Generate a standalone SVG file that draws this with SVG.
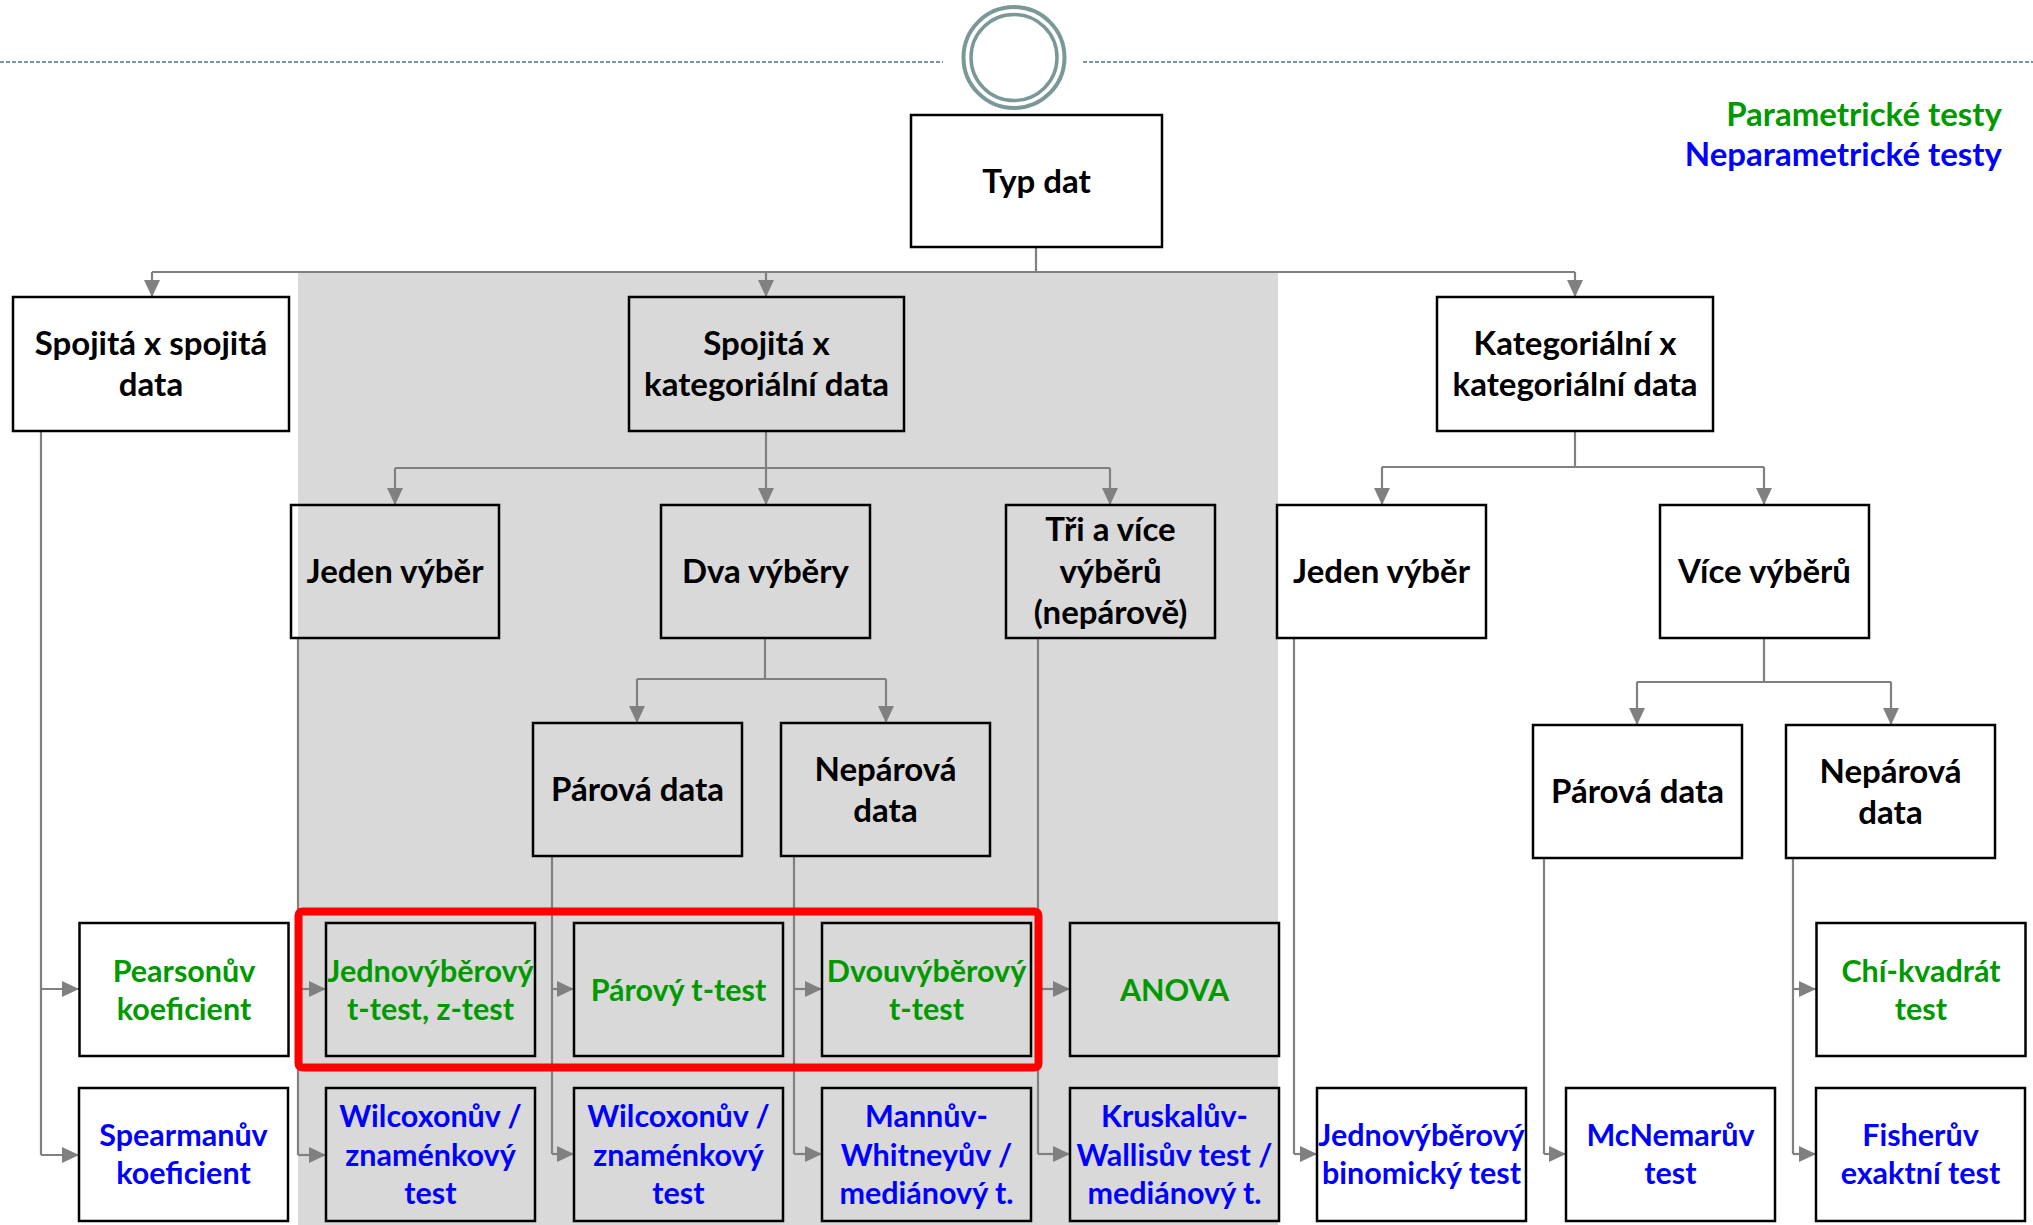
<svg xmlns="http://www.w3.org/2000/svg" width="2033" height="1225" viewBox="0 0 2033 1225">
<style>
.bx{fill:none;stroke:#000;stroke-width:2.5}
.t{font-family:Lato,"Liberation Sans",sans-serif;font-weight:bold;text-anchor:middle}
.b{font-size:33px;fill:#000}
.g{font-size:30.5px;fill:#009900}
.u{font-size:30.5px;fill:#0000ff}
.c{fill:none;stroke:#808080;stroke-width:2.2}
.ca{fill:none;stroke:#808080;stroke-width:2.2;marker-end:url(#ah)}
.teal{fill:none;stroke:#7a9898}
</style>
<defs>
<marker id="ah" markerUnits="userSpaceOnUse" markerWidth="17" markerHeight="16" refX="17" refY="8" orient="auto">
<path d="M0,0 L17,8 L0,16 z" fill="#808080"/>
</marker>
</defs>
<rect width="2033" height="1225" fill="#fff"/>
<rect id="bg" x="298" y="272" width="980" height="953" fill="#d9d9d9"/>
<g id="header">
<line x1="0" y1="62" x2="943" y2="62" class="teal" stroke-width="2" stroke-dasharray="4,2"/>
<line x1="1083" y1="62" x2="2033" y2="62" class="teal" stroke-width="2" stroke-dasharray="4,2"/>
<circle cx="1014" cy="57.5" r="50.5" fill="#fff" stroke="#7a9898" stroke-width="4"/>
<circle cx="1014" cy="57.5" r="43" class="teal" stroke-width="3.5"/>
</g>
<g id="legend">
<text x="2002" y="126" class="t b" style="fill:#009900;text-anchor:end">Parametrické testy</text>
<text x="2002" y="166" class="t b" style="fill:#0000ff;text-anchor:end">Neparametrické testy</text>
</g>
<g id="connectors">
<path class="c" d="M1036,247 V272 M152,272 H1575"/>
<path class="ca" d="M152,272 V297"/>
<path class="ca" d="M766,272 V297"/>
<path class="ca" d="M1575,272 V297"/>
<path class="c" d="M766,431 V468 M395,468 H1110"/>
<path class="ca" d="M395,468 V505"/>
<path class="ca" d="M766,468 V505"/>
<path class="ca" d="M1110,468 V505"/>
<path class="c" d="M1575,431 V467 M1382,467 H1764"/>
<path class="ca" d="M1382,467 V505"/>
<path class="ca" d="M1764,467 V505"/>
<path class="c" d="M765,638 V679 M637,679 H886"/>
<path class="ca" d="M637,679 V723"/>
<path class="ca" d="M886,679 V723"/>
<path class="c" d="M1764,638 V682 M1637,682 H1891"/>
<path class="ca" d="M1637,682 V725"/>
<path class="ca" d="M1891,682 V725"/>
<path class="c" d="M41,431 V1155"/>
<path class="ca" d="M41,989 H79"/>
<path class="ca" d="M41,1155 H79"/>
<path class="c" d="M298,638 V1155"/>
<path class="ca" d="M298,989 H326"/>
<path class="ca" d="M298,1155 H326"/>
<path class="c" d="M552,856 V1154"/>
<path class="ca" d="M552,989 H574"/>
<path class="ca" d="M552,1154 H574"/>
<path class="c" d="M794,856 V1154"/>
<path class="ca" d="M794,989 H822"/>
<path class="ca" d="M794,1154 H822"/>
<path class="c" d="M1038,638 V1154"/>
<path class="ca" d="M1038,989 H1070"/>
<path class="ca" d="M1038,1154 H1070"/>
<path class="c" d="M1294,638 V1154"/>
<path class="ca" d="M1294,1154 H1317"/>
<path class="c" d="M1544,858 V1154"/>
<path class="ca" d="M1544,1154 H1566"/>
<path class="c" d="M1793,858 V1154"/>
<path class="ca" d="M1793,989 H1816"/>
<path class="ca" d="M1793,1154 H1816"/>
</g>
<g id="n_typ"><rect class="bx" x="911" y="115" width="251" height="132"/><text class="t b" x="1036.5" y="192.5">Typ dat</text></g>
<g id="n_ss"><rect class="bx" x="13" y="297" width="276" height="134"/><text class="t b" x="151" y="354.5">Spojitá x spojitá</text><text class="t b" x="151" y="396">data</text></g>
<g id="n_sk"><rect class="bx" x="629" y="297" width="275" height="134"/><text class="t b" x="766.5" y="354.5">Spojitá x</text><text class="t b" x="766.5" y="396">kategoriální data</text></g>
<g id="n_kk"><rect class="bx" x="1437" y="297" width="276" height="134"/><text class="t b" x="1575" y="354.5">Kategoriální x</text><text class="t b" x="1575" y="396">kategoriální data</text></g>
<g id="n_jv1"><rect class="bx" x="291" y="505" width="208" height="133"/><text class="t b" x="395" y="583">Jeden výběr</text></g>
<g id="n_dv"><rect class="bx" x="661" y="505" width="209" height="133"/><text class="t b" x="765.5" y="583">Dva výběry</text></g>
<g id="n_tri"><rect class="bx" x="1006" y="505" width="209" height="133"/><text class="t b" x="1110.5" y="541">Tři a více</text><text class="t b" x="1110.5" y="582.5">výběrů</text><text class="t b" x="1110.5" y="624">(nepárově)</text></g>
<g id="n_jv2"><rect class="bx" x="1277" y="505" width="209" height="133"/><text class="t b" x="1381.5" y="583">Jeden výběr</text></g>
<g id="n_vv"><rect class="bx" x="1660" y="505" width="209" height="133"/><text class="t b" x="1764.5" y="583">Více výběrů</text></g>
<g id="n_pd1"><rect class="bx" x="533" y="723" width="209" height="133"/><text class="t b" x="637.5" y="801">Párová data</text></g>
<g id="n_nd1"><rect class="bx" x="781" y="723" width="209" height="133"/><text class="t b" x="885.5" y="780.5">Nepárová</text><text class="t b" x="885.5" y="822">data</text></g>
<g id="n_pd2"><rect class="bx" x="1533" y="725" width="209" height="133"/><text class="t b" x="1637.5" y="803">Párová data</text></g>
<g id="n_nd2"><rect class="bx" x="1786" y="725" width="209" height="133"/><text class="t b" x="1890.5" y="782.5">Nepárová</text><text class="t b" x="1890.5" y="824">data</text></g>
<g id="n_pearson"><rect class="bx" x="79.5" y="923" width="209" height="133"/><text class="t g" x="184" y="981.5">Pearsonův</text><text class="t g" x="184" y="1019.5">koeficient</text></g>
<g id="n_jednot"><rect class="bx" x="326" y="923" width="209" height="133"/><text class="t g" x="430.5" y="981.5">Jednovýběrový</text><text class="t g" x="430.5" y="1019.5">t-test, z-test</text></g>
<g id="n_parovy"><rect class="bx" x="574" y="923" width="209" height="133"/><text class="t g" x="678.5" y="1000.5">Párový t-test</text></g>
<g id="n_dvou"><rect class="bx" x="822" y="923" width="209" height="133"/><text class="t g" x="926.5" y="981.5">Dvouvýběrový</text><text class="t g" x="926.5" y="1019.5">t-test</text></g>
<g id="n_anova"><rect class="bx" x="1070" y="923" width="209" height="133"/><text class="t g" x="1174.5" y="1000.5">ANOVA</text></g>
<g id="n_chi"><rect class="bx" x="1816.5" y="923" width="209" height="133"/><text class="t g" x="1921" y="981.5">Chí-kvadrát</text><text class="t g" x="1921" y="1019.5">test</text></g>
<g id="n_spearman"><rect class="bx" x="79" y="1088" width="209" height="133"/><text class="t u" x="183.5" y="1145.5">Spearmanův</text><text class="t u" x="183.5" y="1184">koeficient</text></g>
<g id="n_wil1"><rect class="bx" x="326" y="1088" width="209" height="133"/><text class="t u" x="430.5" y="1127">Wilcoxonův /</text><text class="t u" x="430.5" y="1165.5">znaménkový</text><text class="t u" x="430.5" y="1204">test</text></g>
<g id="n_wil2"><rect class="bx" x="574" y="1088" width="209" height="133"/><text class="t u" x="678.5" y="1127">Wilcoxonův /</text><text class="t u" x="678.5" y="1165.5">znaménkový</text><text class="t u" x="678.5" y="1204">test</text></g>
<g id="n_mann"><rect class="bx" x="822" y="1088" width="209" height="133"/><text class="t u" x="926.5" y="1127">Mannův-</text><text class="t u" x="926.5" y="1165.5">Whitneyův /</text><text class="t u" x="926.5" y="1204">mediánový t.</text></g>
<g id="n_krusk"><rect class="bx" x="1070" y="1088" width="209" height="133"/><text class="t u" x="1174.5" y="1127">Kruskalův-</text><text class="t u" x="1174.5" y="1165.5">Wallisův test /</text><text class="t u" x="1174.5" y="1204">mediánový t.</text></g>
<g id="n_binom"><rect class="bx" x="1317" y="1088" width="209" height="133"/><text class="t u" x="1421.5" y="1145.5">Jednovýběrový</text><text class="t u" x="1421.5" y="1184">binomický test</text></g>
<g id="n_mcnemar"><rect class="bx" x="1566" y="1088" width="209" height="133"/><text class="t u" x="1670.5" y="1145.5">McNemarův</text><text class="t u" x="1670.5" y="1184">test</text></g>
<g id="n_fisher"><rect class="bx" x="1816" y="1088" width="209" height="133"/><text class="t u" x="1920.5" y="1145.5">Fisherův</text><text class="t u" x="1920.5" y="1184">exaktní test</text></g>
<rect id="highlight" x="298.5" y="911.5" width="740" height="156" rx="4" fill="none" stroke="#ff0000" stroke-width="8"/>
</svg>
